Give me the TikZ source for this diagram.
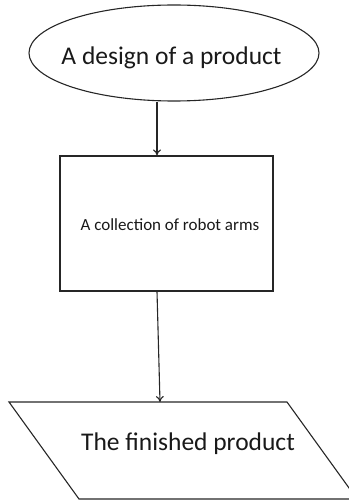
\documentclass[tikz,border=0pt]{standalone}
\usepackage{fontspec}
\setmainfont{Carlito}
\usetikzlibrary{shapes.geometric,arrows.meta}
\begin{document}
\begin{tikzpicture}[x=1pt,y=-1pt,
  outline/.style={draw=black!85,line width=1.1pt},
  flow/.style={draw=black!85,line width=1.1pt,-{To[length=6pt,width=8pt]}},
  bigtext/.style={font=\fontsize{25.5}{30}\selectfont,text=black!90,inner sep=0pt,anchor=base},
  smalltext/.style={font=\fontsize{17}{20}\selectfont,text=black!90,inner sep=0pt,anchor=base}]
\useasboundingbox (0,0) rectangle (348,500);
% start: the design
\node (design) [outline,ellipse,minimum width=290,minimum height=96,inner sep=0pt] at (174,53) {};
\node (designtext) [bigtext] at (171.5,65) {A design of a product};
% process: the robot arms
\node (arms) [outline,rectangle,minimum width=213,minimum height=135,inner sep=0pt] at (166.5,223.5) {};
\node (armstext) [smalltext] at (170,230) {A collection of robot arms};
% output: the finished product (a parallelogram leaning left)
\coordinate (tl) at (9,402);
\coordinate (tr) at (287,402);
\coordinate (br) at (357,499);
\coordinate (bl) at (79,499);
\draw[outline,line join=miter] (tl) -- (tr) -- (br) -- (bl) -- cycle;
\node (fintext) [bigtext] at (188,450) {The finished product};
% connectors
\coordinate (a1) at (157,98);
\coordinate (a2) at (157,156);
\draw[flow] (design.south -| a1) -- (arms.north -| a2);
\coordinate (b1) at (157,291);
\coordinate (b2) at (160,402);
\draw[flow] (arms.south -| b1) -- (b2);
\end{tikzpicture}
\end{document}
